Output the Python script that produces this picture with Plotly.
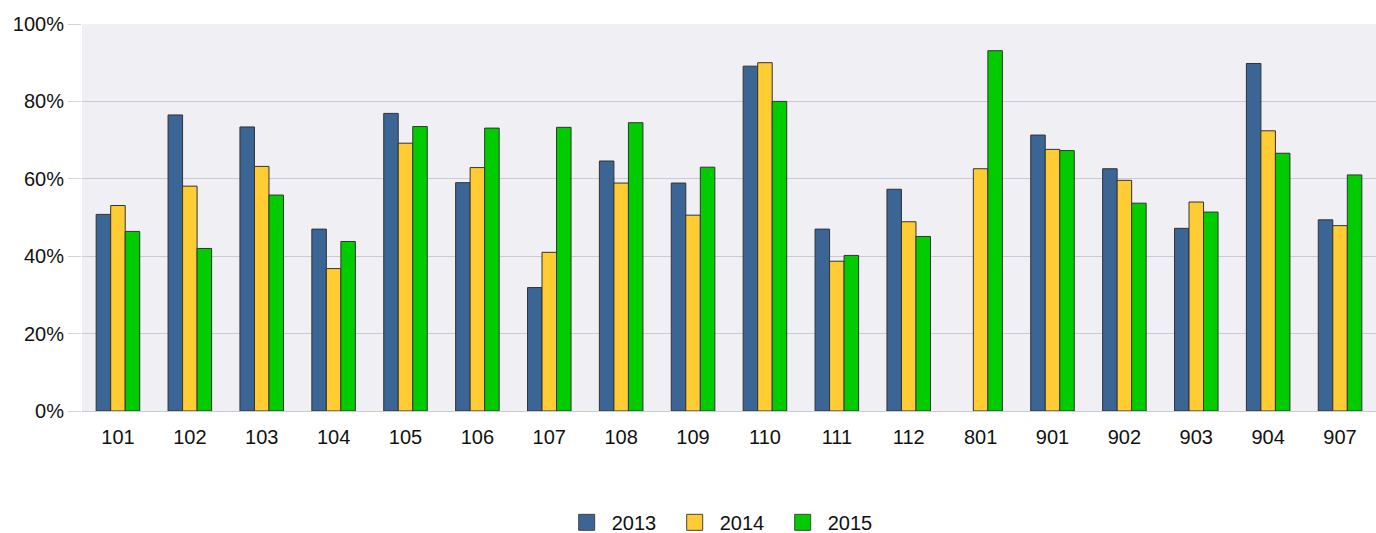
import plotly.graph_objects as go

categories = ["101", "102", "103", "104", "105", "106", "107", "108", "109",
              "110", "111", "112", "801", "901", "902", "903", "904", "907"]
y2013 = [50.8, 76.5, 73.4, 47.0, 76.9, 59.0, 31.9, 64.6, 58.9,
         89.1, 47.0, 57.3, None, 71.3, 62.6, 47.2, 89.8, 49.4]
y2014 = [53.1, 58.1, 63.2, 36.8, 69.2, 62.9, 41.0, 58.9, 50.6,
         90.0, 38.7, 48.9, 62.6, 67.6, 59.6, 54.0, 72.4, 47.9]
y2015 = [46.4, 42.0, 55.8, 43.8, 73.5, 73.1, 73.3, 74.5, 63.0,
         80.0, 40.2, 45.1, 93.1, 67.3, 53.7, 51.4, 66.6, 61.0]
series_names = ["2013", "2014", "2015"]
colors = ["#3a6595", "#ffcc33", "#00cc00"]
ytick_vals = [0, 20, 40, 60, 80, 100]
ytick_text = ["0%", "20%", "40%", "60%", "80%", "100%"]

FONT = "Liberation Sans, Arial, sans-serif"

fig = go.Figure()
for name, vals, col in zip(series_names, [y2013, y2014, y2015], colors):
    fig.add_trace(go.Bar(
        x=categories, y=vals, name=name, showlegend=False,
        marker=dict(color=col, line=dict(color="#333333", width=1)),
    ))
    # legend proxy with larger square swatch
    fig.add_trace(go.Scatter(
        x=[None], y=[None], mode="markers", name=name, showlegend=True,
        marker=dict(symbol="square", size=18, color=col,
                    line=dict(color="#444444", width=1)),
    ))

fig.update_layout(
    width=1376, height=533,
    margin=dict(l=82, r=0, t=24, b=122, autoexpand=False),
    paper_bgcolor="white",
    plot_bgcolor="#efeff4",
    barmode="group",
    bargap=0.394,
    bargroupgap=0,
    font=dict(family=FONT, size=20, color="#111111"),
    legend=dict(orientation="h", x=0.4959, xanchor="center",
                yref="container", y=0.02, yanchor="middle",
                font=dict(size=20), entrywidth=53, itemwidth=40),
    xaxis=dict(type="category", showgrid=False, ticks="outside", ticklen=8,
               tickcolor="rgba(0,0,0,0)", showline=False,
               tickfont=dict(size=20)),
    yaxis=dict(range=[0, 100], tickvals=ytick_vals, ticktext=ytick_text,
               showgrid=True, gridcolor="#c9c9d8", gridwidth=1,
               ticks="outside", ticklen=13, tickcolor="#d4d4e0",
               zeroline=True, zerolinecolor="#c9c9d8", zerolinewidth=1,
               showline=False, tickfont=dict(size=20)),
)

fig.write_html("out.html",
               config={"displayModeBar": False},
               post_script="document.body.style.margin='0';"
                           "document.body.style.overflow='hidden';")
